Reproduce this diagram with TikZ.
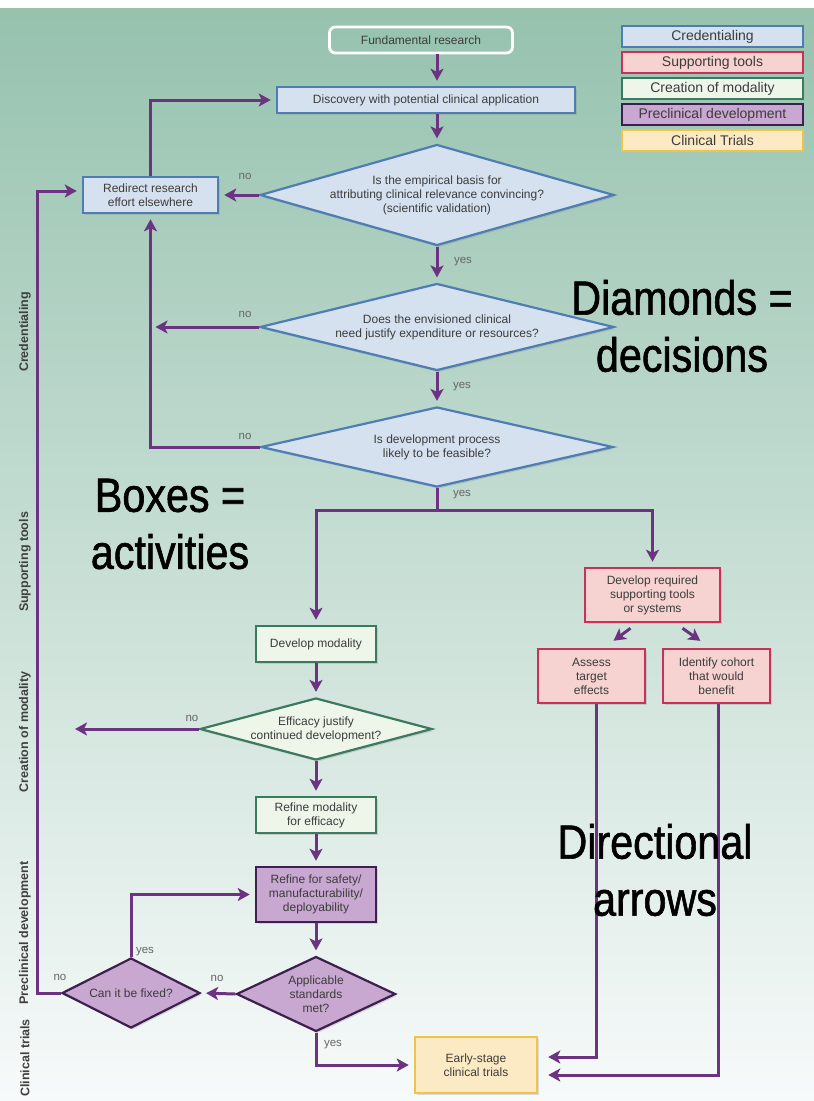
\documentclass[tikz,border=0pt]{standalone}
\usepackage{fontspec}
\setmainfont{Liberation Sans}
\newfontfamily\notefont[FakeStretch=0.86,FakeBold=1.2]{Liberation Sans}
\usetikzlibrary{positioning,arrows.meta,shapes.geometric,shadows}

\definecolor{bgtop}{RGB}{150,194,174}
\definecolor{bgmid}{RGB}{193,220,208}
\definecolor{bgbot}{RGB}{247,250,250}
\definecolor{credfill}{RGB}{214,225,239}
\definecolor{credline}{RGB}{78,125,180}
\definecolor{toolfill}{RGB}{246,210,208}
\definecolor{toolline}{RGB}{200,50,88}
\definecolor{modfill}{RGB}{238,246,234}
\definecolor{modline}{RGB}{60,122,95}
\definecolor{prefill}{RGB}{200,167,208}
\definecolor{preline}{RGB}{62,32,80}
\definecolor{trialfill}{RGB}{252,234,196}
\definecolor{trialline}{RGB}{240,195,75}
\definecolor{flow}{RGB}{108,52,128}
\definecolor{boxtext}{RGB}{60,60,60}

\begin{document}
\begin{tikzpicture}[
            x=1pt, y=-1pt,
            block/.style={rectangle, draw, line width=2.5pt, align=center, text=boxtext, inner sep=2pt,
                font=\fontsize{12}{14}\selectfont,
                drop shadow={shadow xshift=1.5pt, shadow yshift=-2pt, opacity=0.25}},
            credbox/.style={block, draw=credline, fill=credfill},
            toolbox/.style={block, draw=toolline, fill=toolfill},
            modbox/.style={block, draw=modline, fill=modfill},
            prebox/.style={block, draw=preline, fill=prefill},
            trialbox/.style={block, draw=trialline, fill=trialfill},
            startbox/.style={rectangle, rounded corners=6pt, draw=white, line width=2.8pt, text=boxtext,
                font=\fontsize{12}{14}\selectfont, minimum width=183pt, minimum height=26pt},
            decision/.style={diamond, aspect=3.5, draw, line width=2.2pt, inner sep=0pt, align=center, text=boxtext,
                font=\fontsize{12}{14}\selectfont,
                drop shadow={shadow xshift=1.5pt, shadow yshift=-2pt, opacity=0.25}},
            keybox/.style={rectangle, draw, line width=2.5pt, minimum width=181pt, minimum height=21pt, inner sep=0pt,
                text=boxtext, font=\fontsize{14}{16}\selectfont},
            arrow/.style={-{Stealth[length=12pt,width=13pt,inset=3pt]}, line width=3pt, draw=flow, shorten >=5pt},
            link/.style={line width=3pt, draw=flow},
            answer/.style={text=black!60, font=\fontsize{11.5}{12}\selectfont},
            phase/.style={rotate=90, text=black!75, font=\bfseries\fontsize{12.5}{14}\selectfont},
            note/.style={align=center, font=\notefont\fontsize{48}{57}\selectfont}
        ]
        \useasboundingbox (0,0) rectangle (814,1101);
        \fill[white] (0,0) rectangle (814,8);
        \shade[top color=bgtop, middle color=bgmid, bottom color=bgbot] (0,8) rectangle (814,1101);

        \node[startbox] (fund) at (421,40) {Fundamental research};
        \node[credbox, minimum width=298pt, minimum height=26pt] (disc) at (426,100) {Discovery with potential clinical application};
        \node[decision, draw=credline, fill=credfill, minimum width=354pt, minimum height=101pt] (d1) at (437,195)
            {Is the empirical basis for\\attributing clinical relevance convincing?\\(scientific validation)};
        \node[credbox, minimum width=135pt, minimum height=36pt] (redirect) at (150.5,195) {Redirect research\\effort elsewhere};
        \node[decision, draw=credline, fill=credfill, minimum width=354pt, minimum height=87pt] (d2) at (437,327)
            {Does the envisioned clinical\\need justify expenditure or resources?};
        \node[decision, draw=credline, fill=credfill, minimum width=352pt, minimum height=80pt] (d3) at (437,447)
            {Is development process\\likely to be feasible?};
        \coordinate (split) at (437,510);

        \node[toolbox, minimum width=135pt, minimum height=54pt] (devreq) at (652.5,595) {Develop required\\supporting tools\\or systems};
        \node[toolbox, minimum width=107pt, minimum height=54pt] (assess) at (591.5,676) {Assess\\target\\effects};
        \node[toolbox, minimum width=107pt, minimum height=54pt] (identify) at (716.5,676) {Identify cohort\\that would\\benefit};

        \node[modbox, minimum width=120pt, minimum height=36pt] (devmod) at (316,644) {Develop modality};
        \node[decision, aspect=3.75, draw=modline, fill=modfill, minimum width=232pt, minimum height=62pt] (eff) at (316,729)
            {Efficacy justify\\continued development?};
        \coordinate (giveup) at (70,729);
        \node[modbox, minimum width=120pt, minimum height=36pt] (refmod) at (316,815) {Refine modality\\for efficacy};
        \node[prebox, minimum width=120pt, minimum height=55pt] (refsafe) at (316,894.5) {Refine for safety/\\manufacturability/\\deployability};
        \node[decision, aspect=2.1, draw=preline, fill=prefill, minimum width=159pt, minimum height=75pt] (app) at (316,994)
            {Applicable\\standards\\met?};
        \node[decision, aspect=2, draw=preline, fill=prefill, minimum width=138pt, minimum height=70pt] (fix) at (131,993)
            {Can it be fixed?};
        \coordinate (leftrail) at (37,993);
        \node[trialbox, minimum width=122pt, minimum height=56pt] (early) at (476,1065) {Early-stage\\clinical trials};

        \draw[arrow] (fund.south -| d1.north) -- (disc.north -| d1.north);
        \draw[arrow] (disc.south -| d1.north) -- (d1.north);
        \draw[arrow] (d1.west) -- (redirect.east);
        \draw[arrow] (redirect.north) |- (disc.west);
        \draw[arrow] (d1.south) -- (d2.north);
        \draw[arrow] (d2.west) -- (d2.west -| redirect.south);
        \draw[arrow] (d2.south) -- (d3.north);
        \draw[arrow] (d3.west) -| (redirect.south);
        \draw[link] (d3.south) -- (split);
        \draw[arrow] (split) -| (devmod.north);
        \draw[arrow] (split) -| (devreq.north);
        \draw[arrow] ([xshift=-22pt,yshift=-5pt]devreq.south) -- ([xshift=18pt,yshift=4pt]assess.north);
        \draw[arrow] ([xshift=30pt,yshift=-5pt]devreq.south) -- ([xshift=-12pt,yshift=4pt]identify.north);
        \draw[arrow, shorten >=10pt] ([xshift=5pt]assess.south) |- ([yshift=8pt]early.east);
        \draw[arrow, shorten >=10pt] ([xshift=2pt]identify.south) |- ([yshift=-10pt]early.east);
        \draw[arrow] (devmod) -- (eff);
        \draw[arrow] (eff.west) -- (giveup);
        \draw[arrow] (eff) -- (refmod);
        \draw[arrow] (refmod) -- (refsafe);
        \draw[arrow] (refsafe) -- (app);
        \draw[arrow] (app.west) -- (fix.east);
        \draw[arrow] (fix.north) |- (refsafe.west);
        \draw[arrow] (fix.west) -- (leftrail) |- ([yshift=4pt]redirect.west);
        \draw[arrow] (app.south) |- (early.west);

        \node[answer] (no1) at (245,176) {no};
        \node[answer] (yes1) at (463,262) {yes};
        \node[answer] (no2) at (245,314) {no};
        \node[answer] (yes2) at (462,387) {yes};
        \node[answer] (no3) at (245,436) {no};
        \node[answer] (yes3) at (462,495) {yes};
        \node[answer] (no4) at (192,718) {no};
        \node[answer] (no5) at (217,978) {no};
        \node[answer] (yes5) at (333,1045) {yes};
        \node[answer] (no6) at (60,977) {no};
        \node[answer] (yes6) at (145,952) {yes};

        \node[keybox, draw=credline, fill=credfill] (keycred) at (712.5,36.5) {Credentialing};
        \node[keybox, draw=toolline, fill=toolfill, below=2.5pt of keycred] (keytool) {Supporting tools};
        \node[keybox, draw=modline, fill=modfill, below=2.5pt of keytool] (keymod) {Creation of modality};
        \node[keybox, draw=preline, fill=prefill, below=2.5pt of keymod] (keypre) {Preclinical development};
        \node[keybox, draw=trialline, fill=trialfill, below=2.5pt of keypre] (keytrial) {Clinical Trials};

        \node[phase] (phcred) at (25,332) {Credentialing};
        \node[phase] (phtool) at (25,562) {Supporting tools};
        \node[phase] (phmod) at (25,732) {Creation of modality};
        \node[phase] (phpre) at (25,933) {Preclinical development};
        \node[phase] (phtrial) at (25,1058) {Clinical trials};

        \node[note] (notedia) at (682,326) {Diamonds =\\decisions};
        \node[note] (notebox) at (170,524) {Boxes =\\activities};
        \node[note] (notearr) at (655,870) {Directional\\arrows};
        \end{tikzpicture}
\end{document}
